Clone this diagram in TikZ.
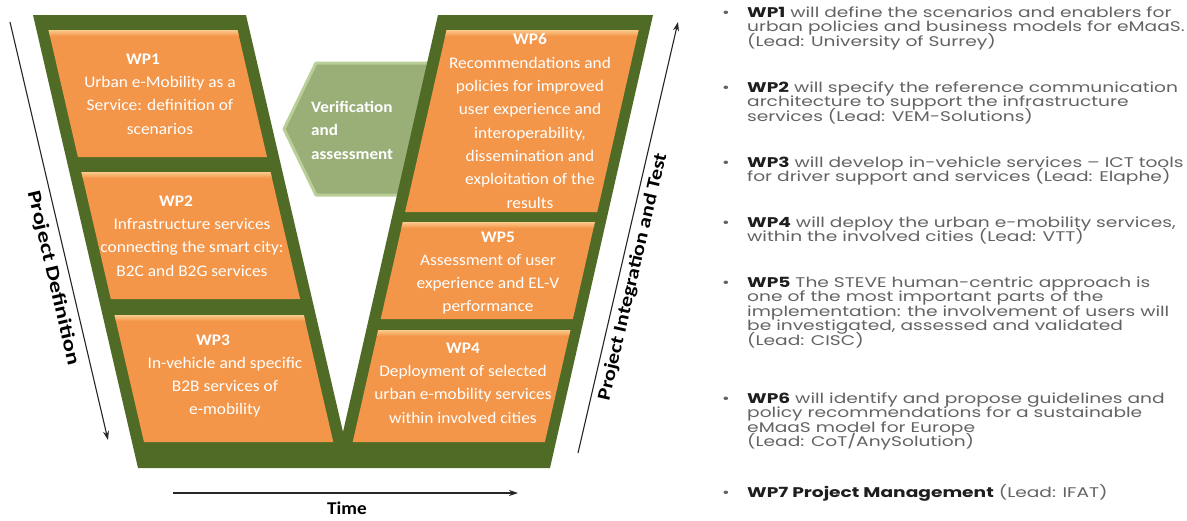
\documentclass[tikz,border=0pt]{standalone}
\usepackage{fontspec}
\setmainfont{Carlito}[FakeStretch=1.07]
\newfontfamily\gothic[FakeStretch=1.33]{Poppins}
\newfontfamily\pdfont[FakeStretch=1.29]{Carlito}
\newfontfamily\pifont[FakeStretch=1.2]{Carlito}
\usetikzlibrary{arrows.meta}
\definecolor{vgreen}{HTML}{4F6B25}
\definecolor{vorange}{HTML}{F3964A}
\definecolor{vorangeL}{HTML}{FBCB8C}
\definecolor{arrowfill}{HTML}{9AAE78}
\definecolor{arrowedge}{HTML}{BACF98}
\definecolor{bodygray}{HTML}{636363}
\definecolor{headgray}{HTML}{1E1E1E}
\newcommand{\tightlines}{\lineskiplimit=-20pt\relax\lineskip=0pt\relax}
\begin{document}
\begin{tikzpicture}[x=1pt,y=-1pt,
  wpbox/.style={fill=vorange},
  wpstrip/.style={top color=vorangeL, bottom color=vorange},
  wptext/.style={align=center, text=white, font=\fontsize{16.2}{23.3}\selectfont, inner sep=0},
  axis/.style={draw=black!85, line width=1.1pt, -{Stealth[length=9pt,width=6pt]}},
  axislabel/.style={font=\bfseries\fontsize{18}{20}\selectfont, inner sep=0},
  desc/.style={anchor=base west, align=left, inner sep=0, text=bodygray,
    font=\gothic\fontsize{14}{14.5}\selectfont\tightlines},
]
\useasboundingbox[fill=white] (0,0) rectangle (1187,520);

% verification arrow (behind the V)
\filldraw[fill=arrowfill, draw=arrowedge, line width=3pt, line join=round]
  (316,63) -- (284,129) -- (316,195) -- (440,195) -- (440,63) -- cycle;
\node[align=left, anchor=west, text=white, inner sep=0,
      font=\bfseries\fontsize{16}{23.5}\selectfont] (ver) at (311,130)
  {Verification\\and\\assessment};

% green V
\fill[vgreen] (33,15) -- (246,15) -- (343,432) -- (438,15) -- (653,15)
  -- (550,468) -- (138,468) -- cycle;

% orange boxes, left arm
\fill[wpbox] (48.5,30) -- (237.5,30) -- (267.0,157) -- (77.9,157) -- cycle;
\shade[wpstrip] (48.5,30) -- (237.5,30) -- (238.9,36) -- (49.9,36) -- cycle;
\fill[wpbox] (81.4,172) -- (270.5,172) -- (300.1,299) -- (110.8,299) -- cycle;
\shade[wpstrip] (81.4,172) -- (270.5,172) -- (271.9,178) -- (82.8,178) -- cycle;
\fill[wpbox] (114.5,315) -- (303.8,315) -- (333.3,442) -- (144.0,442) -- cycle;
\shade[wpstrip] (114.5,315) -- (303.8,315) -- (305.2,321) -- (115.9,321) -- cycle;
% orange boxes, right arm
\fill[wpbox] (446.6,30) -- (638.6,30) -- (597.2,212) -- (405.1,212) -- cycle;
\shade[wpstrip] (446.6,30) -- (638.6,30) -- (637.2,36) -- (445.2,36) -- cycle;
\fill[wpbox] (402.8,222) -- (594.9,222) -- (572.9,319) -- (380.7,319) -- cycle;
\shade[wpstrip] (402.8,222) -- (594.9,222) -- (593.5,228) -- (401.4,228) -- cycle;
\fill[wpbox] (378.2,330) -- (570.4,330) -- (544.9,442) -- (352.7,442) -- cycle;
\shade[wpstrip] (378.2,330) -- (570.4,330) -- (569.0,336) -- (376.8,336) -- cycle;

% box texts
\node[wptext] (wp1) at (160,94)
  {\textbf{WP1}\rule{34pt}{0pt}\\Urban e-Mobility as a\\Service: definition of\\scenarios};
\node[wptext] (wp2) at (192,236)
  {\textbf{WP2}\rule{32pt}{0pt}\\Infrastructure services\\connecting the smart city:\\B2C and B2G services};
\node[wptext] (wp3) at (225,376)
  {\textbf{WP3}\rule{24pt}{0pt}\\In-vehicle and specific\\B2B services of\\e-mobility};
\node[wptext] (wp6) at (530,121)
  {\textbf{WP6}\\Recommendations and\\policies for improved\\user experience and\\interoperability,\\dissemination and\\exploitation of the\\results};
\node[wptext] (wp5) at (488,273)
  {\rule{20pt}{0pt}\textbf{WP5}\\Assessment of user\\experience and EL-V\\performance};
\node[wptext] (wp4) at (463,383)
  {\textbf{WP4}\\Deployment of selected\\urban e-mobility services\\within involved cities};

% axes
\coordinate (pdA) at (10,22);
\coordinate (pdB) at (108,440);
\draw[axis] (pdA) -- (pdB);
\node[axislabel, font=\pdfont\bfseries\fontsize{19}{21}\selectfont, rotate=-76.8] (pdl) at (53,278) {Project Definition};

\coordinate (piA) at (578,453);
\coordinate (piB) at (678,22);
\draw[axis] (piA) -- (piB);
\node[axislabel, font=\pifont\bfseries\fontsize{18.5}{21}\selectfont, rotate=76.9] (pil) at (633,277) {Project Integration and Test};

\coordinate (tA) at (173,493);
\coordinate (tB) at (518,493);
\draw[axis] (tA) -- (tB);
\node[axislabel] (tl) at (347,508) {Time};

% descriptions
\node[desc] (d1) at (722,46)
  {\makebox[25pt][l]{•}\textcolor{headgray}{\bfseries WP1} will define the scenarios and enablers for\\
   \hspace*{25pt}urban policies and business models for eMaaS.\\
   \hspace*{25pt}(Lead: University of Surrey)};
\node[desc] (d2) at (722,121)
  {\makebox[25pt][l]{•}\textcolor{headgray}{\bfseries WP2} will specify the reference communication\\
   \hspace*{25pt}architecture to support the infrastructure\\
   \hspace*{25pt}services (Lead: VEM-Solutions)};
\node[desc] (d3) at (722,181.5)
  {\makebox[25pt][l]{•}\textcolor{headgray}{\bfseries WP3} will develop in-vehicle services – ICT tools\\
   \hspace*{25pt}for driver support and services (Lead: Elaphe)};
\node[desc] (d4) at (722,241.5)
  {\makebox[25pt][l]{•}\textcolor{headgray}{\bfseries WP4} will deploy the urban e-mobility services,\\
   \hspace*{25pt}within the involved cities (Lead: VTT)};
\node[desc] (d5) at (722,345)
  {\makebox[25pt][l]{•}\textcolor{headgray}{\bfseries WP5} The STEVE human-centric approach is\\
   \hspace*{25pt}one of the most important parts of the\\
   \hspace*{25pt}implementation: the involvement of users will\\
   \hspace*{25pt}be investigated, assessed and validated\\
   \hspace*{25pt}(Lead: CISC)};
\node[desc] (d6) at (722,446.5)
  {\makebox[25pt][l]{•}\textcolor{headgray}{\bfseries WP6} will identify and propose guidelines and\\
   \hspace*{25pt}policy recommendations for a sustainable\\
   \hspace*{25pt}eMaaS model for Europe\\
   \hspace*{25pt}(Lead: CoT/AnySolution)};
\node[desc] (d7) at (722,497)
  {\makebox[25pt][l]{•}\textcolor{headgray}{\bfseries WP7 Project Management} (Lead: IFAT)};
\end{tikzpicture}
\end{document}
